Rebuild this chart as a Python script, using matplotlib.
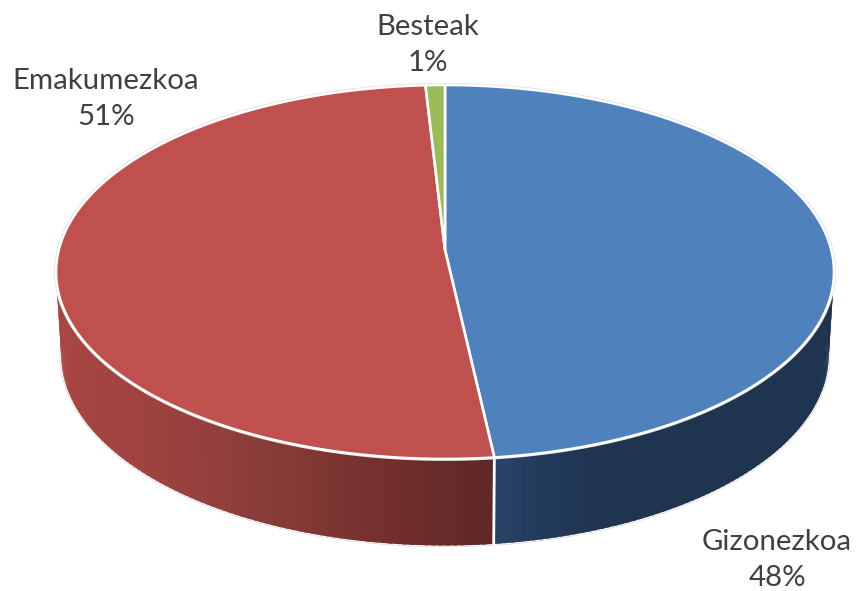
import numpy as np
import matplotlib
matplotlib.use("Agg")
import matplotlib.pyplot as plt

categories = ["Gizonezkoa", "Emakumezkoa", "Besteak"]
shares = [48.2, 50.9, 0.9]
top_colors = ["#4F81BD", "#C0504D", "#9BBB59"]
wall_stops = {
    0: ([495, 530, 600, 835], ["#2A4468", "#233C5E", "#1F344E", "#1F344E"]),
    1: ([55, 150, 260, 400, 495], ["#A84643", "#9E423F", "#8A3D39", "#702D2C", "#5E2826"]),
    2: ([0, 860], ["#9BBB59", "#9BBB59"]),
}
label_xy = [(777, 560), (106, 99), (428, 45)]

K = 0.1176
CX = 445.0


def project(theta, a, b, cy):
    """Perspective view of a unit disc; theta runs clockwise from 12 o'clock."""
    px, py = np.sin(theta), np.cos(theta)
    w = 1 + K * py
    return CX + a * px / w, cy - b * py / w


TOP = (386.3, 184.4, 250.0)
BOTTOM = (381.0, 187.5, 333.0)


def hex_rgb(c):
    return np.array(matplotlib.colors.to_rgb(c))


def wall_color(i, x):
    xs, cols = wall_stops[i]
    arr = np.array([hex_rgb(c) for c in cols])
    return tuple(np.interp(x, xs, arr[:, j]) for j in range(3))


fig = plt.figure(figsize=(8.6, 5.91), dpi=100)
ax = fig.add_axes([0, 0, 1, 1])
ax.set_xlim(0, 860)
ax.set_ylim(591, 0)
ax.axis("off")

edges = np.deg2rad(np.concatenate([[0], np.cumsum(shares)]) * 3.6)
full = np.linspace(0, 2 * np.pi, 721)

# faint outer silhouette of the bottom rim
bx, by = project(full, *BOTTOM)
ax.plot(bx, by, color="#D8D8D8", lw=2.4, zorder=1)
ax.plot(bx, by, color="#FFFFFF", lw=1.4, zorder=1.1)

# side wall, cut into strips that overlap the next one so no seams show
for i in range(len(shares)):
    n = max(int((edges[i + 1] - edges[i]) * 60), 2)
    th = np.linspace(edges[i], edges[i + 1], n)
    step = th[1] - th[0]
    for t0, t1 in zip(th[:-1], th[1:]):
        t1x = min(t1 + 0.6 * step, edges[i + 1])
        sub = np.linspace(t0, t1x, 6)
        xa, ya = project(sub, *TOP)
        xb, yb = project(sub[::-1], *BOTTOM)
        xmid = np.mean(project(np.array([t0, t1]), *TOP)[0])
        c = wall_color(i, xmid)
        ax.fill(np.r_[xa, xb], np.r_[ya, yb], facecolor=c, edgecolor="none", lw=0, zorder=2)

# white seam at the front boundary between the two large slices
sx0, sy0 = project(edges[1], *TOP)
sx1, sy1 = project(edges[1], *BOTTOM)
ax.plot([sx0, sx1], [sy0, sy1], color="white", lw=2.0, zorder=3, solid_capstyle="butt")

# top surface
tx, ty = project(full, *TOP)
ax.plot(tx, ty, color="#DADADA", lw=2.8, zorder=3.5)
for i in range(len(shares)):
    th = np.linspace(edges[i], edges[i + 1], max(int((edges[i + 1] - edges[i]) * 120), 2))
    x, y = project(th, *TOP)
    ax.fill(np.r_[CX, x], np.r_[TOP[2], y], facecolor=top_colors[i],
            edgecolor="white", lw=1.9, joinstyle="round", zorder=4)

for name, value, (lx, ly) in zip(categories, shares, label_xy):
    ax.text(lx, ly, f"{name}\n{value:.0f}%", ha="center", va="center", family="Lato",
            fontsize=21.2, color="#404040", linespacing=1.5, zorder=5)

fig.savefig("out.png", dpi=100)
